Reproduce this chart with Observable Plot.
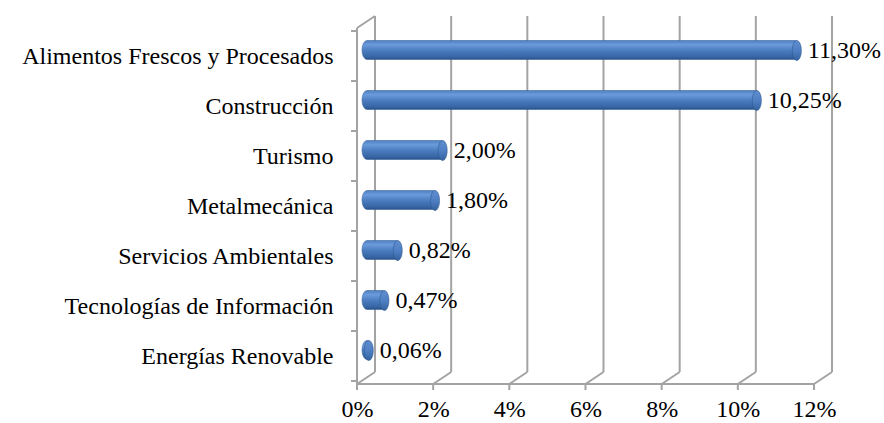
<!DOCTYPE html>
<html>
<head>
<meta charset="utf-8">
<script src="https://cdn.jsdelivr.net/npm/d3@7"></script>
<script src="https://cdn.jsdelivr.net/npm/@observablehq/plot@0.6"></script>
<style>
  html, body { margin: 0; padding: 0; background: #fff; }
  #chart svg, #chart svg text { font-family: "Liberation Serif", "Times New Roman", Times, serif !important; }
</style>
</head>
<body>
<div id="chart"></div>
<script>
const categories = [
  "Alimentos Frescos y Procesados",
  "Construcción",
  "Turismo",
  "Metalmecánica",
  "Servicios Ambientales",
  "Tecnologías de Información",
  "Energías Renovable"
];
const values = [11.30, 10.25, 2.00, 1.80, 0.82, 0.47, 0.06];
const xTicks = [0, 2, 4, 6, 8, 10, 12];

const data = categories.map((c, i) => ({category: c, value: values[i]}));

const DX = 18, DY = -12;           // depth of the 3D box (pixels)
const GRID = "#a3a3a3";
const fmt = v => v.toFixed(2).replace(".", ",") + "%";

function walls(index, scales, vals, dims) {
  const x = scales.x, y = scales.y;
  const top = dims.marginTop, bottom = dims.height - dims.marginBottom;
  const x0 = x(0);
  const g = d3.create("svg:g").attr("stroke", GRID).attr("stroke-width", 2).attr("fill", "none");
  for (const t of xTicks) {
    const px = x(t);
    g.append("line").attr("x1", px + DX).attr("x2", px + DX).attr("y1", top + DY).attr("y2", bottom + DY);
    g.append("line").attr("x1", px).attr("y1", bottom).attr("x2", px + DX).attr("y2", bottom + DY);
    g.append("line").attr("x1", px).attr("x2", px).attr("y1", bottom).attr("y2", bottom + 6);
  }
  g.append("line").attr("x1", x0).attr("x2", x(xTicks[xTicks.length - 1])).attr("y1", bottom).attr("y2", bottom);
  g.append("line").attr("x1", x0).attr("x2", x0).attr("y1", top).attr("y2", bottom);
  g.append("line").attr("x1", x0).attr("y1", top).attr("x2", x0 + DX).attr("y2", top + DY);
  const bounds = categories.map(c => y(c)).concat([y(categories[categories.length - 1]) + y.bandwidth()]);
  for (const b of bounds) {
    g.append("line").attr("x1", x0 - 6).attr("x2", x0).attr("y1", b).attr("y2", b);
  }
  return g.node();
}

const ellipse = {
  draw(ctx) {
    const rx = 4.5, ry = 10, k = 0.5523;
    ctx.moveTo(rx, 0);
    ctx.bezierCurveTo(rx, ry * k, rx * k, ry, 0, ry);
    ctx.bezierCurveTo(-rx * k, ry, -rx, ry * k, -rx, 0);
    ctx.bezierCurveTo(-rx, -ry * k, -rx * k, -ry, 0, -ry);
    ctx.bezierCurveTo(rx * k, -ry, rx, -ry * k, rx, 0);
    ctx.closePath();
  }
};

const chart = Plot.plot({
  width: 884,
  height: 423,
  marginLeft: 357,
  marginRight: 70,
  marginTop: 28,
  marginBottom: 39,
  style: {fontSize: "24px", color: "#000", background: "#fff"},
  x: {domain: [0, 12], ticks: xTicks, tickFormat: d => d + "%", tickSize: 0, tickPadding: 15, label: null},
  y: {domain: categories, padding: 0, tickSize: 0, tickPadding: 24, label: null},
  marks: [
    walls,
    Plot.barX(data, {
      x: "value", y: "category",
      fill: "url(#cyl)", stroke: "#3b669c", strokeWidth: 0.6,
      rx: 5, ry: 10,
      insetTop: 15.5, insetBottom: 15.5, insetLeft: -4, insetRight: -4,
      dx: 9, dy: -6
    }),
    Plot.dot(data, {
      x: "value", y: "category", symbol: ellipse,
      fill: "url(#cap)", stroke: "#2f5a91", strokeWidth: 0.6,
      dx: 9, dy: -6
    }),
    Plot.text(data, {
      x: "value", y: "category", text: d => fmt(d.value),
      textAnchor: "start", dx: 20, dy: -6,
      fontSize: 24, fill: "#000"
    })
  ]
});

const defs = d3.select(chart).insert("defs", ":first-child");
const cyl = defs.append("linearGradient").attr("id", "cyl").attr("x1", 0).attr("y1", 0).attr("x2", 0).attr("y2", 1);
[[0, "#4f7fc2"], [0.22, "#6c9bdb"], [0.5, "#4c7ec1"], [0.85, "#3866a6"], [1, "#2b5288"]]
  .forEach(([o, c]) => cyl.append("stop").attr("offset", o).attr("stop-color", c));
const cap = defs.append("linearGradient").attr("id", "cap").attr("x1", 0).attr("y1", 0).attr("x2", 0).attr("y2", 1);
[[0, "#5f8dcf"], [0.5, "#4f80c3"], [1, "#35629f"]]
  .forEach(([o, c]) => cap.append("stop").attr("offset", o).attr("stop-color", c));

document.getElementById("chart").appendChild(chart);
</script>
</body>
</html>
